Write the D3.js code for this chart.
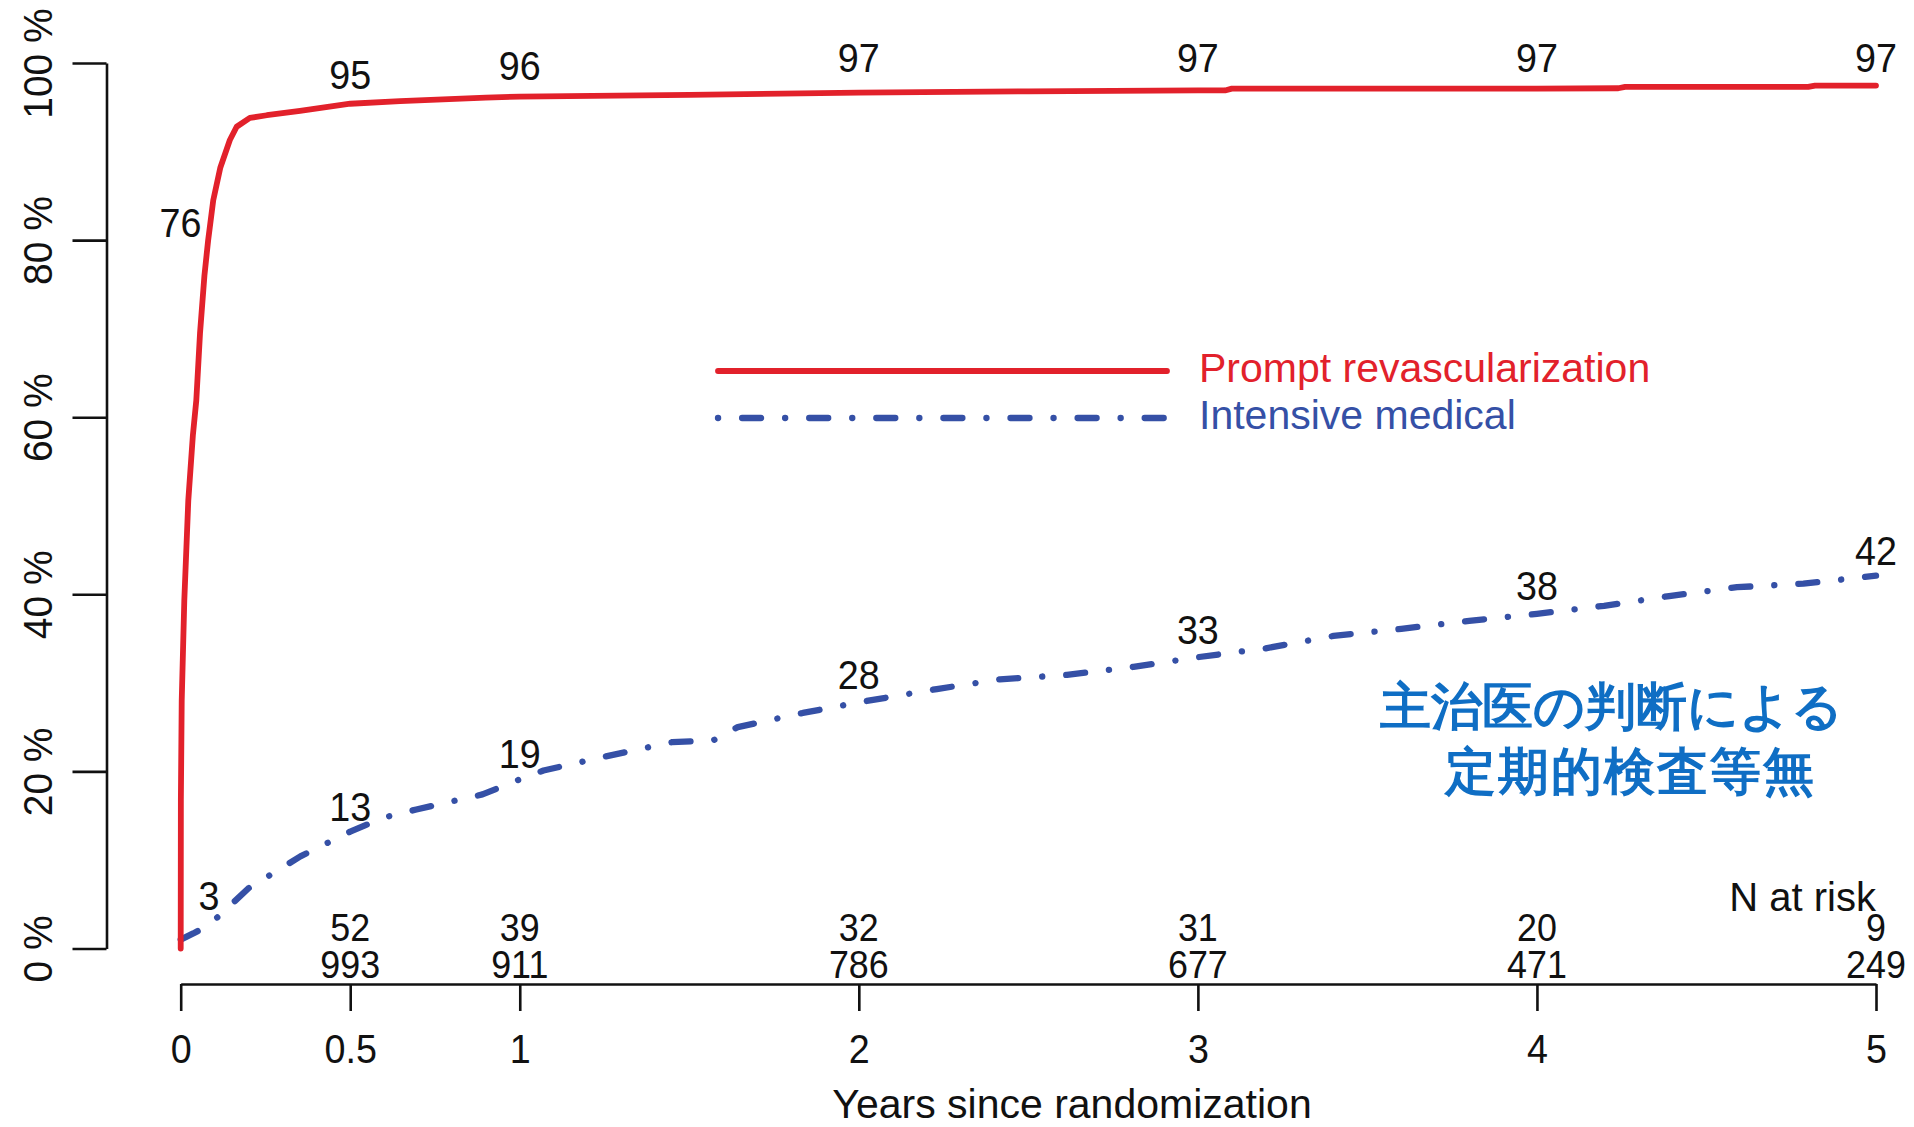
<!DOCTYPE html>
<html lang="ja">
<head>
<meta charset="utf-8">
<title>Cumulative revascularization</title>
<script src="https://cdn.jsdelivr.net/npm/d3@7"></script>
<style>
  html, body { margin: 0; padding: 0; background: #ffffff; }
  svg { display: block; }
  text { font-family: "Liberation Sans", Arial, Helvetica, sans-serif; }
</style>
</head>
<body>
<svg id="chart" width="1914" height="1127"></svg>
<script>
// Cumulative incidence (%) over years since randomization
const promptTimes  = [0, 0.0005, 0.003, 0.0106, 0.0224, 0.036, 0.046, 0.057, 0.07, 0.081, 0.096, 0.117, 0.145, 0.165, 0.204, 0.254, 0.352, 0.5, 0.647, 0.9, 1.0, 1.5, 2.0, 2.5, 3.0, 3.08, 3.1, 4.0, 4.24, 4.26, 4.8, 4.82, 5.0];
const promptValues = [0, 16.8, 28, 39.3, 50.6, 58, 61.9, 69.5, 76, 80, 84.5, 88.2, 91.3, 92.8, 93.8, 94.1, 94.6, 95.4, 95.7, 96.1, 96.2, 96.4, 96.65, 96.8, 96.9, 96.9, 97.1, 97.1, 97.15, 97.3, 97.3, 97.45, 97.45];

const medicalTimes  = [0, 0.037, 0.084, 0.2, 0.353, 0.5, 0.6, 0.695, 0.89, 1.0, 1.07, 1.254, 1.449, 1.57, 1.643, 1.835, 2.0, 2.23, 2.416, 2.614, 2.81, 3.0, 3.2, 3.4, 3.6, 3.8, 4.0, 4.198, 4.39, 4.59, 4.786, 5.0];
const medicalValues = [1.0, 1.7, 2.65, 6.8, 10.4, 13.2, 14.8, 15.7, 17.4, 19.1, 20.1, 21.7, 23.3, 23.5, 25.0, 26.6, 27.8, 29.3, 30.4, 30.9, 31.8, 32.9, 33.9, 35.3, 36.1, 37.0, 37.8, 38.7, 39.8, 40.8, 41.2, 42.1];

// Percentages printed along each curve
const promptLabelTimes  = [0.07, 0.5, 1, 2, 3, 4, 5];
const promptLabels      = [76, 95, 96, 97, 97, 97, 97];
const medicalLabelTimes = [1 / 12, 0.5, 1, 2, 3, 4, 5];
const medicalLabels     = [3, 13, 19, 28, 33, 38, 42];

// Numbers at risk under the axis
const riskTimes = [0.5, 1, 2, 3, 4, 5];
const riskRow1  = [52, 39, 32, 31, 20, 9];
const riskRow2  = [993, 911, 786, 677, 471, 249];

const xTicks = [0, 0.5, 1, 2, 3, 4, 5];
const yTicks = [0, 20, 40, 60, 80, 100];

const seriesNames = ["Prompt revascularization", "Intensive medical"];
const noteLines = ["主治医の判断による", "定期的検査等無"];

const RED = "#e2212b";
const BLUE = "#3550a6";
const NOTE = "#0f6ec4";
const INK = "#111111";
const DIGIT_SQUEEZE = 0.92;

const svg = d3.select("#chart");

const x = d3.scaleLinear().domain([0, 5]).range([180.7, 1876]);
const y = d3.scaleLinear().domain([0, 100]).range([948.5, 63]);

// X axis below the plot, with number-at-risk rows between curves and axis
const xAxisY = 984;
const xAxis = d3.axisBottom(x)
  .tickValues(xTicks)
  .tickSize(27)
  .tickSizeOuter(0)
  .tickFormat(d => String(d));

const gx = svg.append("g")
  .attr("transform", `translate(0,${xAxisY})`)
  .call(xAxis);
gx.select(".domain").attr("stroke", INK).attr("stroke-width", 2.6);
gx.selectAll(".tick line").attr("stroke", INK).attr("stroke-width", 2.6);
gx.selectAll(".tick text")
  .attr("y", 0).attr("dy", null)
  .attr("transform", `translate(0,79) scale(${DIGIT_SQUEEZE},1)`)
  .attr("fill", INK)
  .attr("font-size", 41);

// Y axis on the left, labels turned upright
const yAxis = d3.axisLeft(y)
  .tickValues(yTicks)
  .tickSize(34)
  .tickSizeOuter(0)
  .tickFormat(d => d + " %");

const gy = svg.append("g")
  .attr("transform", "translate(106.5,0)")
  .call(yAxis);
gy.select(".domain").attr("stroke", INK).attr("stroke-width", 2.6);
gy.selectAll(".tick line").attr("stroke", INK).attr("stroke-width", 2.6);
gy.selectAll(".tick text")
  .attr("x", 0).attr("y", 0).attr("dy", null)
  .attr("text-anchor", "middle")
  .attr("transform", "translate(-55,0) rotate(-90) scale(0.95,1)")
  .attr("fill", INK)
  .attr("font-size", 41);

svg.selectAll(".tick text").attr("font-family", "'Liberation Sans', Arial, sans-serif");

// Axis title
svg.append("text")
  .attr("x", 1072).attr("y", 1118)
  .attr("text-anchor", "middle")
  .attr("font-size", 41)
  .attr("fill", INK)
  .text("Years since randomization");

// Curves
const line = d3.line()
  .x(d => x(d[0]))
  .y(d => y(d[1]))
  .curve(d3.curveLinear);

const promptData = promptTimes.map((t, i) => [t, promptValues[i]]);
const medicalData = medicalTimes.map((t, i) => [t, medicalValues[i]]);

const DOTDASH = "0.1,24,19,24";

svg.append("path")
  .datum(medicalData)
  .attr("d", line)
  .attr("fill", "none")
  .attr("stroke", BLUE)
  .attr("stroke-width", 6.3)
  .attr("stroke-linecap", "round")
  .attr("stroke-linejoin", "round")
  .attr("stroke-dasharray", DOTDASH)
  .attr("stroke-dashoffset", 24.1);

svg.append("path")
  .datum(promptData)
  .attr("d", line)
  .attr("fill", "none")
  .attr("stroke", RED)
  .attr("stroke-width", 5.8)
  .attr("stroke-linecap", "round")
  .attr("stroke-linejoin", "round");

// Value labels along the curves
function numberLabel(px, py, txt, anchor, size) {
  svg.append("text")
    .attr("transform", `translate(${px},${py}) scale(${DIGIT_SQUEEZE},1)`)
    .attr("text-anchor", anchor || "middle")
    .attr("font-size", size || 41)
    .attr("fill", INK)
    .text(txt);
}

promptLabels.forEach((v, i) => {
  const t = promptLabelTimes[i];
  if (i === 0) {
    // the steep early rise: label sits to the left of the curve
    numberLabel(x(t) - 3, y(v) - 39, v, "end");
  } else {
    numberLabel(x(t), y(v) - 18, v);
  }
});

medicalLabels.forEach((v, i) => {
  const t = medicalLabelTimes[i];
  numberLabel(x(t), y(v) - 12, v);
});

// Number at risk
svg.append("text")
  .attr("x", x(5)).attr("y", 911)
  .attr("text-anchor", "end")
  .attr("font-size", 40)
  .attr("fill", INK)
  .text("N at risk");

riskTimes.forEach((t, i) => {
  numberLabel(x(t), 941, riskRow1[i], "middle", 39);
  numberLabel(x(t), 978, riskRow2[i], "middle", 39);
});

// Legend
const legend = svg.append("g");
const legendX0 = 718, legendX1 = 1167, legendTextX = 1199;
const legendRows = [
  { name: seriesNames[0], color: RED, dash: null, y: 371, w: 5.8 },
  { name: seriesNames[1], color: BLUE, dash: DOTDASH, y: 418, w: 6.3 }
];
legendRows.forEach(r => {
  legend.append("line")
    .attr("x1", legendX0).attr("x2", legendX1)
    .attr("y1", r.y).attr("y2", r.y)
    .attr("stroke", r.color)
    .attr("stroke-width", r.w)
    .attr("stroke-linecap", "round")
    .attr("stroke-dasharray", r.dash);
  legend.append("text")
    .attr("x", legendTextX).attr("y", r.y + 11)
    .attr("font-size", 41)
    .attr("fill", r.color)
    .text(r.name);
});

// Annotation in Japanese
const note = svg.append("g")
  .attr("font-family", "'Noto Sans CJK JP', 'Noto Sans CJK SC', sans-serif")
  .attr("font-weight", 900)
  .attr("font-size", 51)
  .attr("fill", NOTE);
note.append("text").attr("x", 1380).attr("y", 724).text(noteLines[0]);
note.append("text").attr("x", 1445).attr("y", 789)
  .attr("letter-spacing", 2)
  .text(noteLines[1]);
</script>
</body>
</html>
